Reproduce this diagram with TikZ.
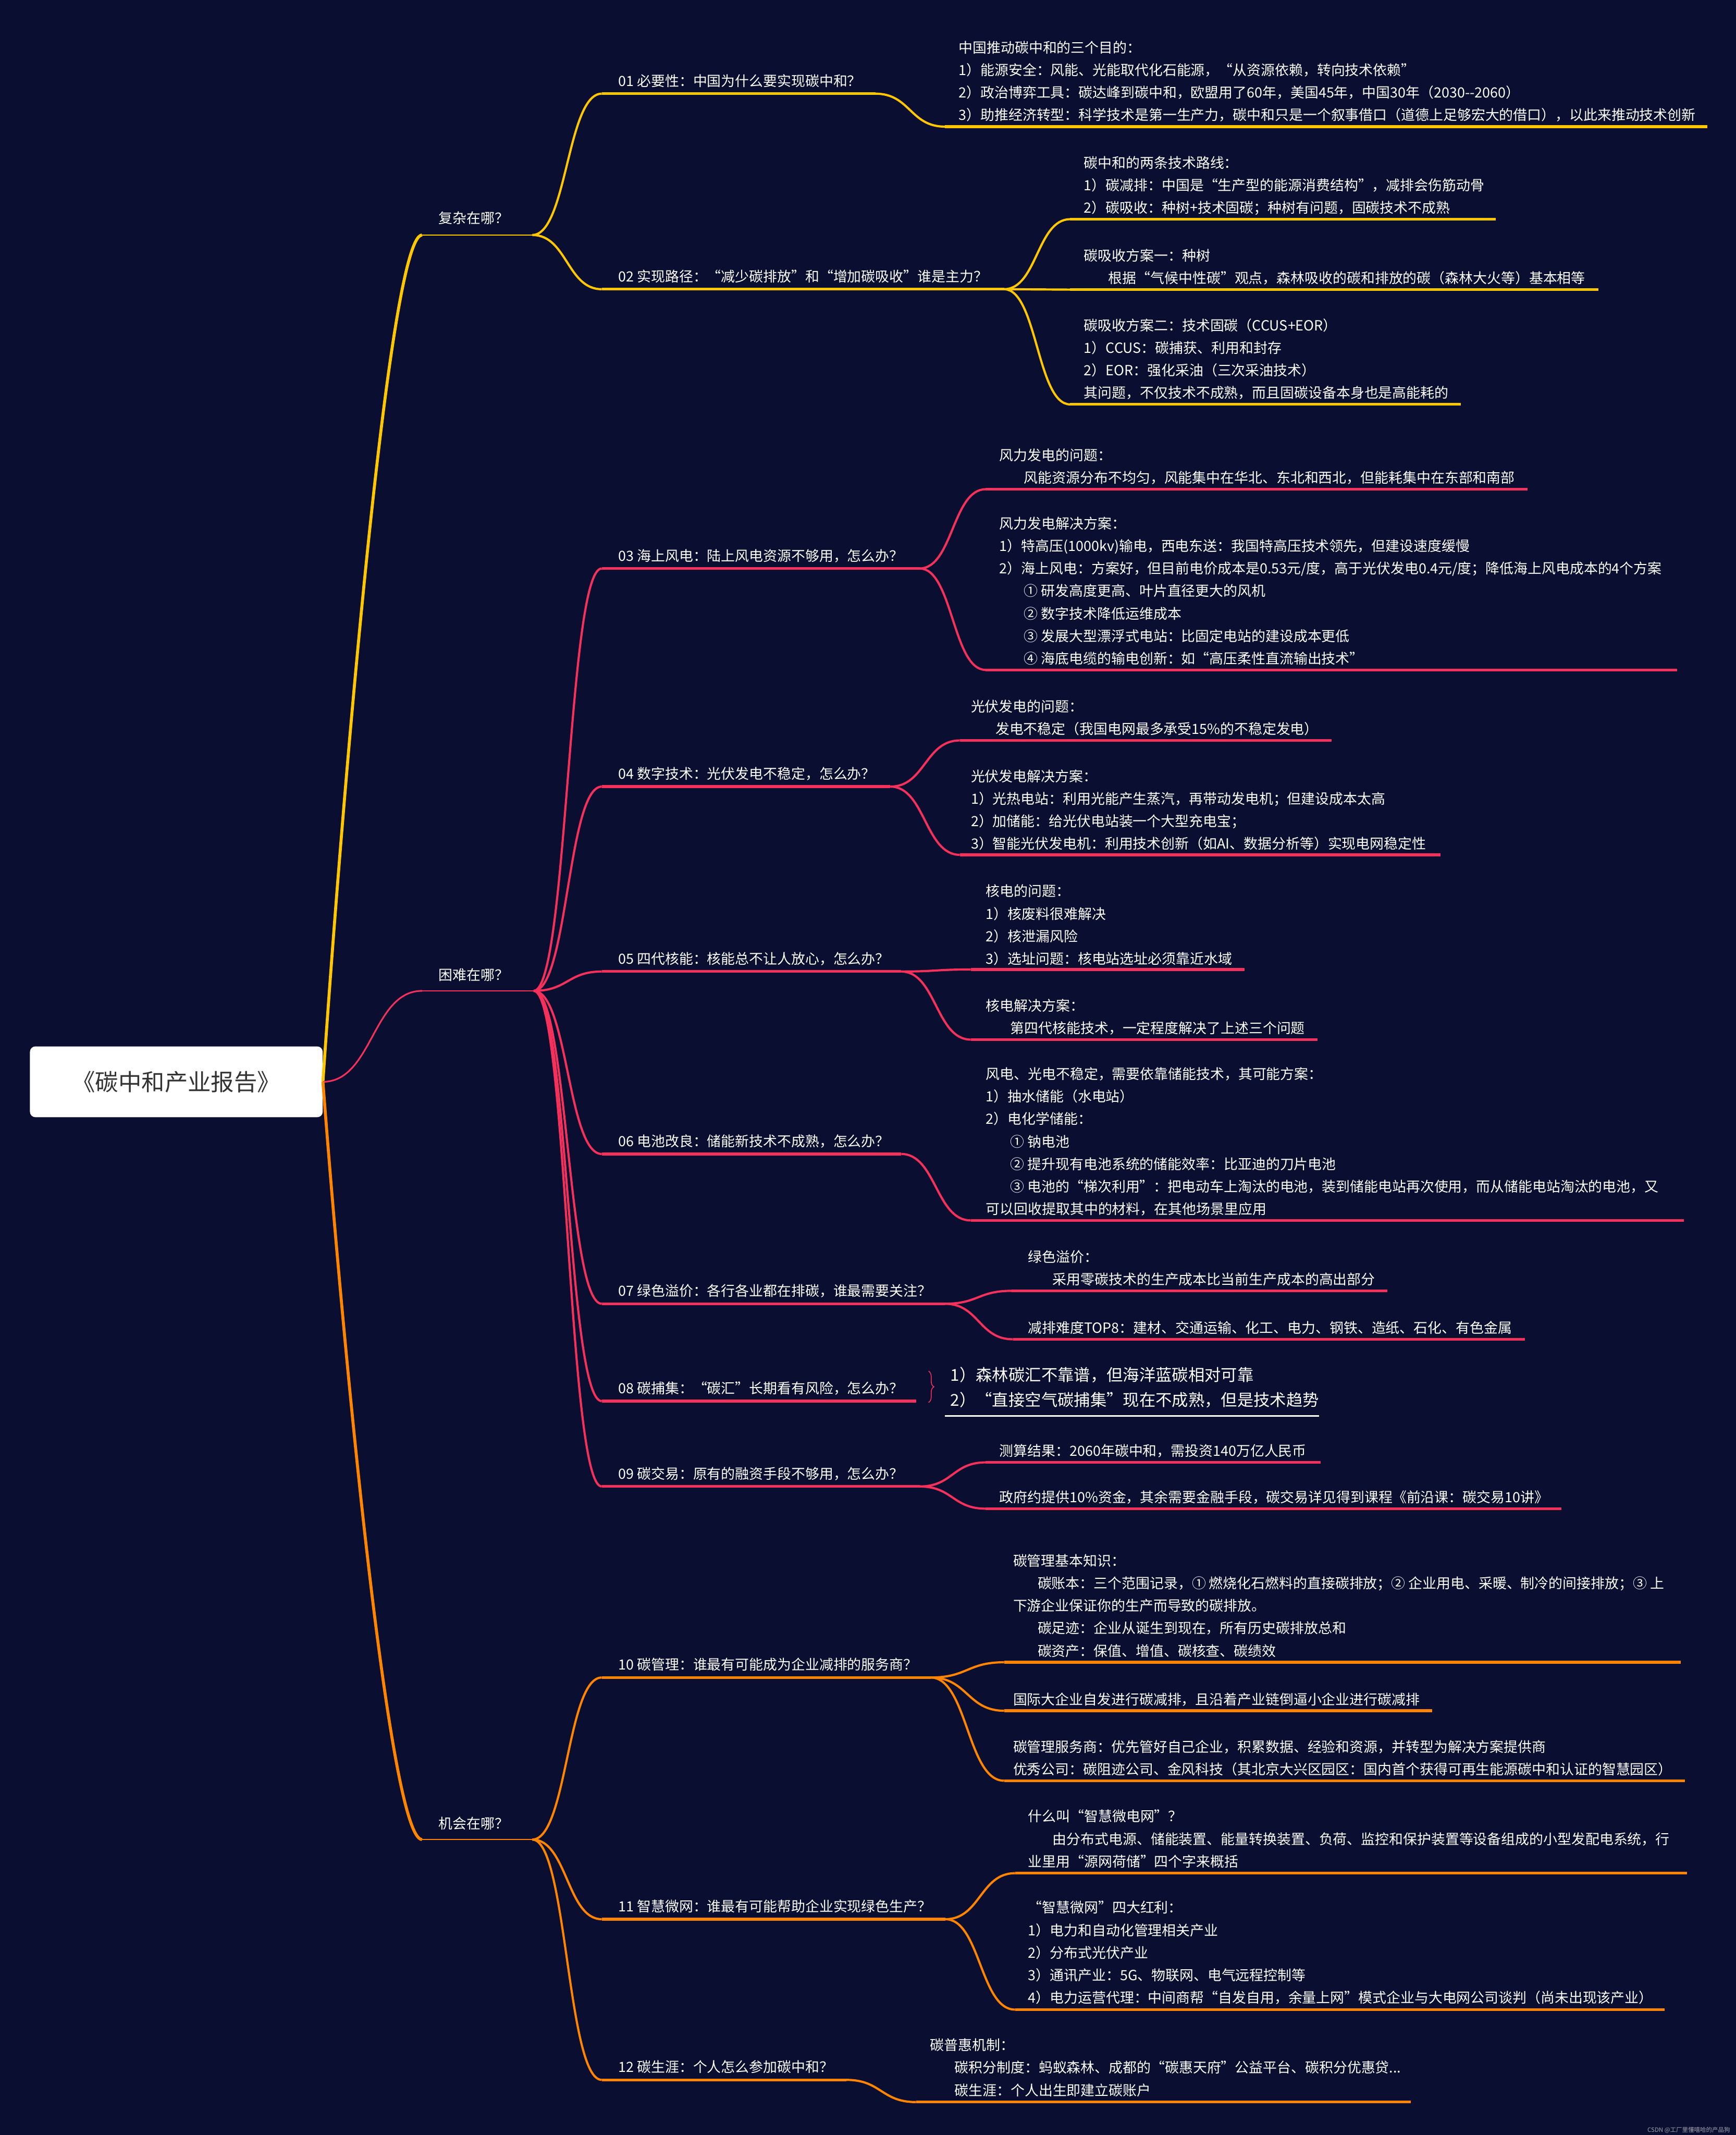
\documentclass[tikz,border=0pt]{standalone}
\usepackage{fontspec}
\setmainfont{Noto Sans CJK SC}
\usetikzlibrary{calc,decorations.pathreplacing}
\definecolor{bg}{HTML}{0A0E30}
\definecolor{cy}{HTML}{FFC700}
\definecolor{cr}{HTML}{F5315B}
\definecolor{co}{HTML}{FF8500}
\definecolor{rootink}{HTML}{333333}
\newcommand\myind{\hspace*{18pt}}
% lines of a text block: name, x, centre y of first line, list
\newcommand\txtlines[4]{%
  \foreach \s [count=\i] in {#4} {\node[txt] (#1-\i) at (#2,{#3+3.9+(\i-1)*16.5}) {\s};}}
% S-shaped connector
\newcommand\sconn[3]{\draw[#1] let \p1=(#2), \p2=(#3) in
  (\p1) .. controls ({0.5*(\x1+\x2)},\y1) and ({0.5*(\x1+\x2)},\y2) .. (\p2);}
% root connector
\newcommand\rconn[3]{\draw[#1] let \p1=(#2), \p2=(#3) in
  (\p1) .. controls ({\x1+0.18*(\x2-\x1)},{\y1+0.31*(\y2-\y1)}) and ({\x1+0.66*(\x2-\x1)},\y2) .. (\p2);}
% level-2 topic: name, colour, underline y, right x, text, parent end
\newcommand\lvtwo[6]{%
  \coordinate (#1L) at (442,#3);
  \coordinate (#1R) at (#4,#3);
  \node[txt] (#1) at (454,{#3-5.5}) {#5};
  \sconn{#2,line width=1.6pt}{#6}{#1L}
  \draw[#2,line width=2pt] (#1L) -- (#1R);}
% leaf block: name, colour, parent end, left x, underline y, right x, text x, first line y, lines
\newcommand\leafnode[9]{%
  \coordinate (#1L) at (#4,#5);
  \coordinate (#1R) at (#6,#5);
  \sconn{#2,line width=1.6pt}{#3}{#1L}
  \draw[#2,line width=2pt] (#1L) -- (#1R);
  \txtlines{#1}{#7}{#8}{#9}}
\tikzset{
  txt/.style={text=white,inner sep=0pt,anchor=base west,font=\fontsize{10.3}{12}\selectfont},
  bigtxt/.style={txt,font=\fontsize{12}{14}\selectfont},
  rootbox/.style={fill=white,rounded corners=4pt,minimum width=215pt,minimum height=52pt,inner sep=0pt,text=rootink,font=\fontsize{17}{19}\selectfont},
  wmark/.style={text=white!62!bg,inner sep=0pt,anchor=east,font=\fontsize{4.4}{5}\selectfont}
}
\begin{document}
\begin{tikzpicture}[x=1pt,y=-1pt]
\fill[bg] (0,0) rectangle (1275,1568);
\useasboundingbox (0,0) rectangle (1275,1568);

\node[rootbox] (root) at (129.5,794.5) {《碳中和产业报告》};

% level 1
\coordinate (AL) at (310,172.6); \coordinate (AR) at (391,172.6);
\coordinate (BL) at (310,727.7); \coordinate (BR) at (392,727.7);
\coordinate (CL) at (310,1351);  \coordinate (CR) at (391,1351);
\rconn{cy,line width=2.2pt}{root.east}{AL}
\sconn{cr,line width=1.2pt}{root.east}{BL}
\rconn{co,line width=2.2pt}{root.east}{CL}
\draw[cy,line width=1pt] (AL) -- (AR);
\draw[cr,line width=1pt] (BL) -- (BR);
\draw[co,line width=1pt] (CL) -- (CR);
\node[txt] (A) at (322,163.9) {复杂在哪？};
\node[txt] (B) at (322,719.9) {困难在哪？};
\node[txt] (C) at (322,1342.9) {机会在哪？};

% level 2
\lvtwo{n01}{cy}{68.8}{643}{01 必要性：中国为什么要实现碳中和？}{AR}
\lvtwo{n02}{cy}{212.4}{737.5}{02 实现路径：“减少碳排放”和“增加碳吸收”谁是主力？}{AR}
\lvtwo{n03}{cr}{417.5}{675.5}{03 海上风电：陆上风电资源不够用，怎么办？}{BR}
\lvtwo{n04}{cr}{577.7}{654}{04 数字技术：光伏发电不稳定，怎么办？}{BR}
\lvtwo{n05}{cr}{713.5}{662}{05 四代核能：核能总不让人放心，怎么办？}{BR}
\lvtwo{n06}{cr}{847.5}{662}{06 电池改良：储能新技术不成熟，怎么办？}{BR}
\lvtwo{n07}{cr}{957.5}{694}{07 绿色溢价：各行各业都在排碳，谁最需要关注？}{BR}
\lvtwo{n08}{cr}{1029}{673}{08 碳捕集：“碳汇”长期看有风险，怎么办？}{BR}
\lvtwo{n09}{cr}{1091.7}{675.5}{09 碳交易：原有的融资手段不够用，怎么办？}{BR}
\lvtwo{n10}{co}{1232}{683.6}{10 碳管理：谁最有可能成为企业减排的服务商？}{CR}
\lvtwo{n11}{co}{1409.5}{694.4}{11 智慧微网：谁最有可能帮助企业实现绿色生产？}{CR}
\lvtwo{n12}{co}{1527.5}{621.7}{12 碳生涯：个人怎么参加碳中和？}{CR}

% leaves
\leafnode{l01}{cy}{n01R}{694}{93}{1254}{704}{35}{{中国推动碳中和的三个目的：},{1）能源安全：风能、光能取代化石能源，“从资源依赖，转向技术依赖”},{2）政治博弈工具：碳达峰到碳中和，欧盟用了60年，美国45年，中国30年（2030-{}-2060）},{3）助推经济转型：科学技术是第一生产力，碳中和只是一个叙事借口（道德上足够宏大的借口），以此来推动技术创新}}
\leafnode{l02a}{cy}{n02R}{786}{161}{1098.6}{796}{119.5}{{碳中和的两条技术路线：},{1）碳减排：中国是“生产型的能源消费结构”，减排会伤筋动骨},{2）碳吸收：种树+技术固碳；种树有问题，固碳技术不成熟}}
\leafnode{l02b}{cy}{n02R}{786}{212.7}{1174}{796}{187.7}{{碳吸收方案一：种树},{\myind 根据“气候中性碳”观点，森林吸收的碳和排放的碳（森林大火等）基本相等}}
\leafnode{l02c}{cy}{n02R}{786}{297}{1073}{796}{239}{{碳吸收方案二：技术固碳（CCUS+EOR）},{1）CCUS：碳捕获、利用和封存},{2）EOR：强化采油（三次采油技术）},{其问题，不仅技术不成熟，而且固碳设备本身也是高能耗的}}

\leafnode{l03a}{cr}{n03R}{724}{359.3}{1122}{734}{334.3}{{风力发电的问题：},{\myind 风能资源分布不均匀，风能集中在华北、东北和西北，但能耗集中在东部和南部}}
\leafnode{l03b}{cr}{n03R}{724}{492}{1232}{734}{384.5}{{风力发电解决方案：},{1）特高压(1000kv)输电，西电东送：我国特高压技术领先，但建设速度缓慢},{2）海上风电：方案好，但目前电价成本是0.53元/度，高于光伏发电0.4元/度；降低海上风电成本的4个方案},{\myind ① 研发高度更高、叶片直径更大的风机},{\myind ② 数字技术降低运维成本},{\myind ③ 发展大型漂浮式电站：比固定电站的建设成本更低},{\myind ④ 海底电缆的输电创新：如“高压柔性直流输出技术”}}
\leafnode{l04a}{cr}{n04R}{705}{543.8}{978}{713}{518.8}{{光伏发电的问题：},{\myind 发电不稳定（我国电网最多承受15\%的不稳定发电）}}
\leafnode{l04b}{cr}{n04R}{705}{627.8}{1058}{713}{570}{{光伏发电解决方案：},{1）光热电站：利用光能产生蒸汽，再带动发电机；但建设成本太高},{2）加储能：给光伏电站装一个大型充电宝；},{3）智能光伏发电机：利用技术创新（如AI、数据分析等）实现电网稳定性}}
\leafnode{l05a}{cr}{n05R}{713}{712}{914}{724}{654.5}{{核电的问题：},{1）核废料很难解决},{2）核泄漏风险},{3）选址问题：核电站选址必须靠近水域}}
\leafnode{l05b}{cr}{n05R}{713}{763.5}{967.6}{724}{738.5}{{核电解决方案：},{\myind 第四代核能技术，一定程度解决了上述三个问题}}
\leafnode{l06}{cr}{n06R}{713}{896.3}{1237}{724}{788.8}{{风电、光电不稳定，需要依靠储能技术，其可能方案：},{1）抽水储能（水电站）},{2）电化学储能：},{\myind ① 钠电池},{\myind ② 提升现有电池系统的储能效率：比亚迪的刀片电池},{\myind ③ 电池的“梯次利用”：把电动车上淘汰的电池，装到储能电站再次使用，而从储能电站淘汰的电池，又},{可以回收提取其中的材料，在其他场景里应用}}
\leafnode{l07a}{cr}{n07R}{743}{948}{1019}{755}{923}{{绿色溢价：},{\myind 采用零碳技术的生产成本比当前生产成本的高出部分}}
\leafnode{l07b}{cr}{n07R}{744}{983.6}{1120}{755}{975}{{减排难度TOP8：建材、交通运输、化工、电力、钢铁、造纸、石化、有色金属}}

% 08 summary brace
\coordinate (b08t) at (682,1007);
\coordinate (b08b) at (682,1030);
\draw[cr,line width=0.6pt,decorate,decoration={brace,amplitude=4pt}] (b08t) -- (b08b);
\node[bigtxt] (l08-1) at (698,1014.4) {1）森林碳汇不靠谱，但海洋蓝碳相对可靠};
\node[bigtxt] (l08-2) at (698,1032.6) {2）“直接空气碳捕集”现在不成熟，但是技术趋势};
\coordinate (l08L) at (694,1040); \coordinate (l08R) at (969,1040);
\draw[white,line width=1.3pt] (l08L) -- (l08R);

\leafnode{l09a}{cr}{n09R}{724}{1074}{970}{734}{1065.5}{{测算结果：2060年碳中和，需投资140万亿人民币}}
\leafnode{l09b}{cr}{n09R}{724}{1108}{1147}{734}{1099.5}{{政府约提供10\%资金，其余需要金融手段，碳交易详见得到课程《前沿课：碳交易10讲》}}

\leafnode{l10a}{co}{n10R}{737.5}{1220.8}{1234.6}{744}{1146.3}{{碳管理基本知识：},{\myind 碳账本：三个范围记录，① 燃烧化石燃料的直接碳排放；② 企业用电、采暖、制冷的间接排放；③ 上},{下游企业保证你的生产而导致的碳排放。},{\myind 碳足迹：企业从诞生到现在，所有历史碳排放总和},{\myind 碳资产：保值、增值、碳核查、碳绩效}}
\leafnode{l10b}{co}{n10R}{737.5}{1256.4}{1052}{744}{1248}{{国际大企业自发进行碳减排，且沿着产业链倒逼小企业进行碳减排}}
\leafnode{l10c}{co}{n10R}{737.5}{1307.8}{1237.7}{744}{1283}{{碳管理服务商：优先管好自己企业，积累数据、经验和资源，并转型为解决方案提供商},{优秀公司：碳阻迹公司、金风科技（其北京大兴区园区：国内首个获得可再生能源碳中和认证的智慧园区）}}
\leafnode{l11a}{co}{n11R}{745.6}{1375.7}{1239}{755}{1334}{{什么叫“智慧微电网”？},{\myind 由分布式电源、储能装置、能量转换装置、负荷、监控和保护装置等设备组成的小型发配电系统，行},{业里用“源网荷储”四个字来概括}}
\leafnode{l11b}{co}{n11R}{745.6}{1475.9}{1222.7}{755}{1401}{{“智慧微网”四大红利：},{1）电力和自动化管理相关产业},{2）分布式光伏产业},{3）通讯产业：5G、物联网、电气远程控制等},{4）电力运营代理：中间商帮“自发自用，余量上网”模式企业与大电网公司谈判（尚未出现该产业）}}
\leafnode{l12}{co}{n12R}{672.8}{1543.8}{1036.4}{683}{1502}{{碳普惠机制：},{\myind 碳积分制度：蚂蚁森林、成都的“碳惠天府”公益平台、碳积分优惠贷.{}.{}.},{\myind 碳生涯：个人出生即建立碳账户}}

\node[wmark] (wm) at (1271,1564.5) {CSDN @工厂里懂嘻哈的产品狗};
\end{tikzpicture}
\end{document}
